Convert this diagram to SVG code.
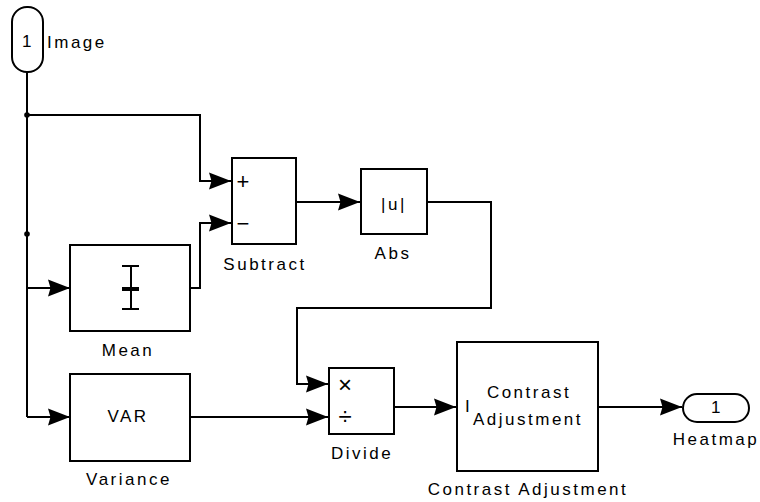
<svg xmlns="http://www.w3.org/2000/svg" width="760" height="502" viewBox="0 0 760 502">
<style>
.blk{fill:#fff;stroke:#000;stroke-width:2}
.ln{fill:none;stroke:#000;stroke-width:2}
.ar{fill:none;stroke:#000;stroke-width:2;marker-end:url(#ah)}
text{font-family:"Liberation Sans",Arial,sans-serif;font-size:17px;letter-spacing:2.5px;fill:#000}
.c{text-anchor:middle}
.sym{letter-spacing:0;text-anchor:middle}
</style>
<defs>
<marker id="ah" markerUnits="userSpaceOnUse" viewBox="0 0 22 20" refX="22" refY="10" markerWidth="22" markerHeight="20" orient="auto">
<path d="M0,1.5 L22,10 L0,18.5 L2.5,10 Z" fill="#000"/>
</marker>
</defs>
<rect width="760" height="502" fill="#fff"/>
<g id="connectors">
<path class="ln" d="M27,72 V417"/>
<path class="ar" d="M27,417 H70"/>
<path class="ar" d="M27,288 H70"/>
<path class="ar" d="M27,115 H200 V181 H231"/>
<path class="ar" d="M190,288 H200 V223 H231"/>
<path class="ar" d="M296,202 H360"/>
<path class="ar" d="M427,202 H491 V308 H297 V384 H328"/>
<path class="ar" d="M190,417 H328"/>
<path class="ar" d="M394,407 H456"/>
<path class="ar" d="M598,407 H682"/>
<circle cx="27" cy="115" r="2.8" fill="#000"/>
<circle cx="27" cy="234" r="2.8" fill="#000"/>
</g>
<g id="image">
<rect class="blk" x="12" y="7" width="31" height="65" rx="15" ry="15"/>
<text class="c" x="28" y="47">1</text>
<text x="47" y="48">Image</text>
</g>
<g id="subtract">
<rect class="blk" x="232" y="158" width="64" height="86"/>
<text class="sym" x="243" y="189" style="font-size:22px">+</text>
<text class="sym" x="243" y="231" style="font-size:22px">−</text>
<text class="c" x="265" y="270">Subtract</text>
</g>
<g id="mean">
<rect class="blk" x="70" y="245" width="120" height="86"/>
<path class="ln" d="M131,266 V309 M122,266 H139 M122,309 H139"/>
<path d="M122,289 H139" stroke="#000" stroke-width="4"/>
<text class="c" x="128" y="356">Mean</text>
</g>
<g id="variance">
<rect class="blk" x="70" y="374" width="120" height="87"/>
<text class="c" x="128" y="422">VAR</text>
<text class="c" x="129" y="485">Variance</text>
</g>
<g id="abs">
<rect class="blk" x="361" y="169" width="66" height="65"/>
<text class="c" x="394" y="210">|u|</text>
<text class="c" x="393" y="259">Abs</text>
</g>
<g id="divide">
<rect class="blk" x="329" y="368" width="65" height="66"/>
<text class="sym" x="345" y="393" style="font-size:24px">×</text>
<text class="sym" x="345" y="425" style="font-size:24px">÷</text>
<text class="c" x="362" y="459">Divide</text>
</g>
<g id="contrast">
<rect class="blk" x="457" y="342" width="141" height="129"/>
<text x="465" y="412">I</text>
<text class="c" x="529" y="398">Contrast</text>
<text class="c" x="528" y="425">Adjustment</text>
<text class="c" x="528" y="495">Contrast Adjustment</text>
</g>
<g id="heatmap">
<rect class="blk" x="683" y="394" width="66" height="28" rx="14" ry="14"/>
<text class="c" x="717" y="413">1</text>
<text class="c" x="716" y="445">Heatmap</text>
</g>
</svg>
